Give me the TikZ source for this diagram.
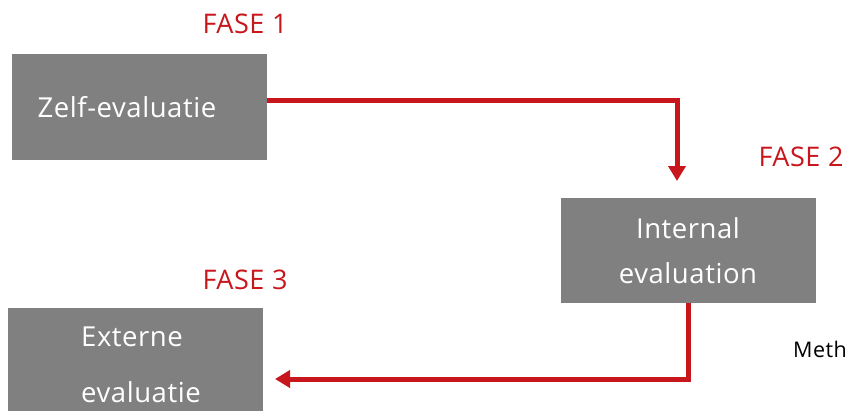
\documentclass[tikz,border=0pt]{standalone}
\usepackage{fontspec}
\setmainfont{Open Sans}[LetterSpace=2]
\usetikzlibrary{arrows.meta}
\definecolor{boxgray}{HTML}{808080}
\definecolor{phasered}{HTML}{C8161D}
\tikzset{
  phasebox/.style={fill=boxgray, draw=none, text=white, minimum width=255pt,
    minimum height=106pt, inner sep=0pt, font=\fontsize{27.5}{32}\selectfont, align=center},
  phaselabel/.style={text=phasered, font=\fontsize{27}{32}\selectfont, inner sep=0pt},
  flow/.style={draw=phasered, line width=5pt, -{Triangle[length=15pt,width=17pt]}}
}
\begin{document}
\begin{tikzpicture}[x=1pt,y=-1pt]
  \clip (0,0) rectangle (846,410);
  \useasboundingbox (0,0) rectangle (846,410);

  % phase boxes
  \node[phasebox] (self) at (139.5,107) {Zelf-evaluatie\hspace*{25pt}};
  \node[phasebox, minimum height=105pt] (internal) at (688,250.5)
    {Internal\\[13pt]evaluation};
  \node[phasebox, minimum height=113pt, align=left] (external) at (135.5,364.5)
    {\hspace*{11pt}Externe\\[24pt]\hspace*{11pt}evaluatie};

  % phase titles
  \node[phaselabel] (f1) at (245,24) {FASE 1};
  \node[phaselabel] (f2) at (801,157) {FASE 2};
  \node[phaselabel] (f3) at (245,280) {FASE 3};

  % note at the right edge
  \node[anchor=base west, inner sep=0pt, font=\fontsize{21.5}{25}\selectfont] (meth) at (793,357) {Meth};

  % connectors
  \coordinate (t1) at (677,181);
  \coordinate (t2) at (275,379);
  \draw[flow] (self.east |- 0,100) -| (t1);
  \draw[flow] (internal.south) |- (t2);
\end{tikzpicture}
\end{document}
